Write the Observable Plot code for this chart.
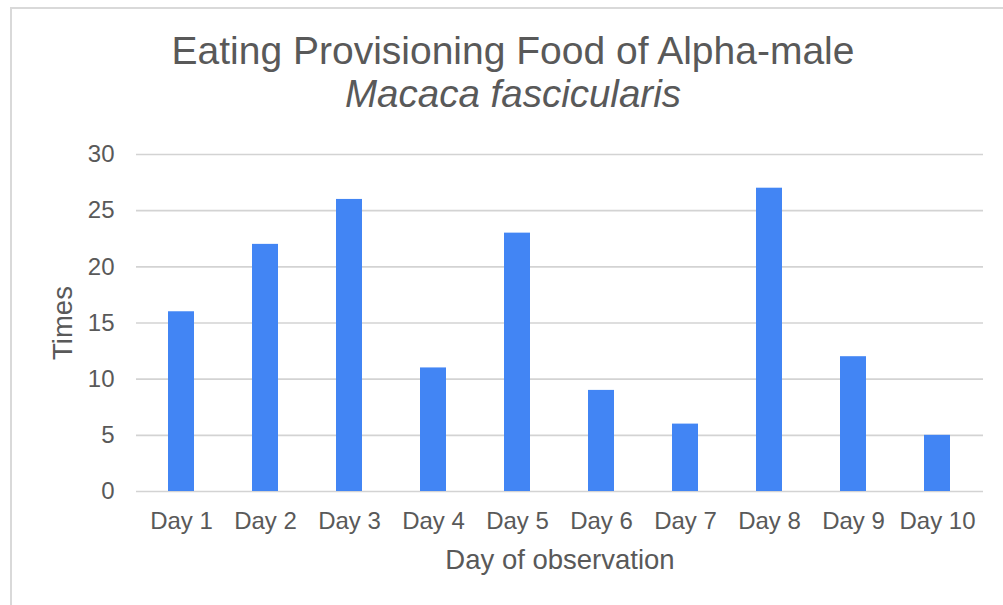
<!DOCTYPE html>
<html>
<head>
<meta charset="utf-8">
<script src="https://cdn.jsdelivr.net/npm/d3@7"></script>
<script src="https://cdn.jsdelivr.net/npm/@observablehq/plot@0.6"></script>
<style>
  html, body { margin: 0; padding: 0; background: #fff; }
  #page { position: relative; width: 1003px; height: 605px; overflow: hidden; font-family: "Liberation Sans", Arial, sans-serif; color: #595959; }
  #frame { position: absolute; left: 10px; top: 7px; width: 1000px; height: 610px; border-left: 2px solid #d9d9d9; border-top: 2px solid #d9d9d9; box-sizing: border-box; }
  .ttl { position: absolute; left: 13px; width: 1000px; text-align: center; white-space: nowrap; }
  #title { top: 31px; font-size: 39px; line-height: 39px; }
  #subtitle { top: 75px; font-size: 38.5px; line-height: 38.5px; font-style: italic; }
  #chart { position: absolute; left: 0; top: 130px; }
</style>
</head>
<body>
<div id="page">
  <div id="frame"></div>
  <div id="title" class="ttl">Eating Provisioning Food of Alpha-male</div>
  <div id="subtitle" class="ttl">Macaca fascicularis</div>
  <div id="chart"></div>
</div>
<script>
const days = ["Day 1", "Day 2", "Day 3", "Day 4", "Day 5", "Day 6", "Day 7", "Day 8", "Day 9", "Day 10"];
const times = [16, 22, 26, 11, 23, 9, 6, 27, 12, 5];
const yTicks = [0, 5, 10, 15, 20, 25, 30];
const xTitle = "Day of observation";
const yTitle = "Times";

const data = days.map((d, i) => ({day: d, value: times[i]}));

const chart = Plot.plot({
  width: 1003,
  height: 475,
  marginLeft: 136,
  marginRight: 20,
  marginTop: 24,
  marginBottom: 114,
  style: {fontFamily: '"Liberation Sans", Arial, sans-serif', color: "#595959", background: "transparent", overflow: "visible"},
  x: {domain: days, paddingInner: 0.69, paddingOuter: 0.345},
  y: {domain: [0, 30]},
  marks: [
    Plot.gridY(yTicks, {stroke: "#d3d3d3", strokeOpacity: 1, strokeWidth: 1.6}),
    Plot.barY(data, {x: "day", y: "value", fill: "#4285f4"}),
    Plot.axisX({tickSize: 0, tickPadding: 20, fontSize: 24, label: xTitle, labelAnchor: "center", labelOffset: 77, labelArrow: "none"}),
    Plot.axisY({ticks: yTicks, tickSize: 0, tickPadding: 22, fontSize: 24, label: yTitle, labelAnchor: "center", labelOffset: 84, labelArrow: "none"})
  ]
});
document.getElementById("chart").appendChild(chart);
// axis titles are larger than tick labels
chart.querySelectorAll('g[aria-label="x-axis label"], g[aria-label="y-axis label"]').forEach(g => g.setAttribute("font-size", 27.5));
</script>
</body>
</html>
